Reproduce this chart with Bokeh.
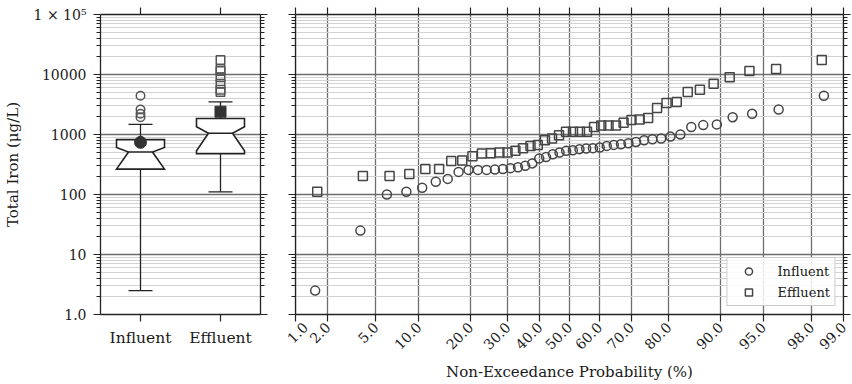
import math
from statistics import NormalDist
from bokeh.plotting import figure
from bokeh.layouts import row
from bokeh.models import Range1d, FixedTicker, LogAxis, LinearAxis, Legend, LegendItem
from bokeh.embed import file_html
from bokeh.resources import INLINE

# ---------------- data ----------------
categories = ["Influent", "Effluent"]

influent = [2.5, 25, 100, 111, 130, 163, 182, 238, 257, 257, 257, 260, 265, 275, 285,
            300, 330, 400, 420, 470, 500, 534, 548, 570, 585, 592, 608, 646, 671, 689,
            716, 752, 802, 832, 855, 923, 1000, 1330, 1435, 1473, 1945, 2213, 2606, 4436]
influent_prob = [1.54, 3.79, 6.05, 8.30, 10.55, 12.81, 15.06, 17.32, 19.57, 21.83, 24.08,
                 26.33, 28.59, 30.84, 33.10, 35.35, 37.60, 39.86, 42.11, 44.37, 46.62, 48.87,
                 51.13, 53.38, 55.63, 57.89, 60.14, 62.40, 64.65, 66.90, 69.16, 71.41, 73.67,
                 75.92, 78.18, 80.43, 82.68, 84.94, 87.19, 89.45, 91.70, 93.95, 96.21, 98.46]

effluent = [111, 204, 204, 220, 267, 267, 361, 368, 432, 484, 485, 500, 500, 534, 592,
            646, 671, 802, 855, 970, 1110, 1110, 1110, 1110, 1330, 1418, 1418, 1418, 1572,
            1737, 1780, 1888, 2760, 3335, 3490, 5100, 5570, 7000, 9020, 11470, 12330, 17400]
effluent_prob = [1.61, 3.97, 6.33, 8.69, 11.05, 13.41, 15.77, 18.13, 20.50, 22.86, 25.22,
                 27.58, 29.94, 32.30, 34.66, 37.02, 39.38, 41.74, 44.10, 46.46, 48.82, 51.18,
                 53.54, 55.90, 58.26, 60.62, 62.98, 65.34, 67.70, 70.06, 72.42, 74.78, 77.14,
                 79.50, 81.87, 84.23, 86.59, 88.95, 91.31, 93.67, 96.03, 98.39]

# box statistics
box_q1 = [265, 480]
box_notch_lo = [265, 535]
box_median = [510, 1050]
box_notch_hi = [610, 1350]
box_q3 = [820, 1850]
box_whisk_lo = [2.5, 111]
box_whisk_hi = [1473, 3490]
box_mean = [740, 2400]

y_ticks = [1.0, 10.0, 100.0, 1000.0, 10000.0, 100000.0]
y_tick_labels = ["1.0", "10", "100", "1000", "10000", "1 \u00d7 10\u2075"]
prob_ticks = [1, 2, 5, 10, 20, 30, 40, 50, 60, 70, 80, 90, 95, 98, 99]
prob_tick_labels = ["1.0", "2.0", "5.0", "10.0", "20.0", "30.0", "40.0", "50.0", "60.0",
                    "70.0", "80.0", "90.0", "95.0", "98.0", "99.0"]

# ---------------- styling helpers ----------------
FONT = "DejaVu Serif"
TXT = "#1a1a1a"
LINE = "#222222"
MAJ_GRID = "#6e6e6e"
MIN_GRID = "#d2d2d2"
MARK = "#454545"

minor_y = [m * d for d in y_ticks[:-1] for m in range(2, 10)]


def y_ticker():
    return FixedTicker(ticks=y_ticks, minor_ticks=minor_y)


def style_axis(ax, hidden_ticks=None, minor=True):
    ax.axis_line_color = LINE
    ax.axis_line_width = 1.3
    ax.major_tick_line_color = LINE
    ax.major_tick_line_width = 1.2
    ax.major_tick_out = 7
    ax.major_tick_in = 0
    if minor:
        ax.minor_tick_line_color = LINE
        ax.minor_tick_line_width = 1.0
        ax.minor_tick_out = 4
        ax.minor_tick_in = 0
    else:
        ax.minor_tick_line_color = None
    ax.major_label_text_font = FONT
    ax.major_label_text_color = TXT
    ax.axis_label_text_font = FONT
    ax.axis_label_text_color = TXT
    ax.axis_label_text_font_style = "normal"
    ax.axis_label_text_font_size = "15px"
    if hidden_ticks is not None:
        # axis that only carries tick marks: blank labels, tiny reserved space
        ax.major_label_overrides = {t: "" for t in hidden_ticks}
        ax.major_label_text_font_size = "1px"
        ax.major_label_standoff = 0


def style_fig(p):
    p.outline_line_color = None
    p.background_fill_color = "white"
    p.border_fill_color = "white"


# ---------------- left: box plot ----------------
p1 = figure(width=285, height=384, x_range=Range1d(0.5, 2.5), y_range=Range1d(1, 1e5),
            y_axis_type="log", output_backend="svg", toolbar_location=None,
            min_border_left=100, min_border_right=25, min_border_top=14, min_border_bottom=67)
style_fig(p1)
cat_pos = [1, 2]

lax1 = p1.left[0]
lax1.ticker = y_ticker()
lax1.major_label_overrides = dict(zip(y_ticks, y_tick_labels))
lax1.axis_label = "Total Iron (\u03bcg/L)"
style_axis(lax1)
lax1.major_label_text_font_size = "14px"
lax1.major_label_standoff = 7
lax1.axis_label_standoff = 9

bax1 = p1.below[0]
bax1.ticker = FixedTicker(ticks=cat_pos)
bax1.major_label_overrides = dict(zip(cat_pos, categories))
style_axis(bax1, minor=False)
bax1.major_label_text_font_size = "15.5px"
bax1.major_label_standoff = 7

tax1 = LinearAxis(ticker=FixedTicker(ticks=cat_pos))
style_axis(tax1, hidden_ticks=cat_pos, minor=False)
p1.add_layout(tax1, "above")
rax1 = LogAxis(ticker=y_ticker())
style_axis(rax1, hidden_ticks=y_ticks)
p1.add_layout(rax1, "right")

p1.xgrid.visible = False
p1.ygrid[0].ticker = y_ticker()
p1.ygrid.grid_line_color = MAJ_GRID
p1.ygrid.grid_line_width = 1.4
p1.ygrid.minor_grid_line_color = MIN_GRID
p1.ygrid.minor_grid_line_width = 1.2

hw, nw, cw = 0.3, 0.15, 0.15
p1.segment(x0=cat_pos, y0=box_q3, x1=cat_pos, y1=box_whisk_hi, line_color=LINE, line_width=1.3)
p1.segment(x0=cat_pos, y0=box_q1, x1=cat_pos, y1=box_whisk_lo, line_color=LINE, line_width=1.3)
p1.segment(x0=[x - cw for x in cat_pos], y0=box_whisk_hi, x1=[x + cw for x in cat_pos],
           y1=box_whisk_hi, line_color=LINE, line_width=1.3)
p1.segment(x0=[x - cw for x in cat_pos], y0=box_whisk_lo, x1=[x + cw for x in cat_pos],
           y1=box_whisk_lo, line_color=LINE, line_width=1.3)
bxs, bys = [], []
for x, a, nl, m, nh, b in zip(cat_pos, box_q1, box_notch_lo, box_median, box_notch_hi, box_q3):
    bxs.append([x - hw, x - hw, x - nw, x - hw, x - hw, x + hw, x + hw, x + nw, x + hw, x + hw])
    bys.append([a, nl, m, nh, b, b, nh, m, nl, a])
p1.patches(bxs, bys, fill_color="white", line_color=LINE, line_width=1.6, line_join="miter")
p1.segment(x0=[x - nw for x in cat_pos], y0=box_median, x1=[x + nw for x in cat_pos],
           y1=box_median, line_color=LINE, line_width=1.6)
inf_out = [v for v in influent if v > box_whisk_hi[0] or v < box_whisk_lo[0]]
eff_out = [v for v in effluent if v > box_whisk_hi[1] or v < box_whisk_lo[1]]
p1.scatter(x=[cat_pos[0]] * len(inf_out), y=inf_out, marker="circle", size=8.5,
           fill_color=None, line_color="#555555", line_width=1.5)
p1.scatter(x=[cat_pos[1]] * len(eff_out), y=eff_out, marker="square", size=8.5,
           fill_color=None, line_color="#555555", line_width=1.5)
p1.scatter(x=[cat_pos[0]], y=[box_mean[0]], marker="circle", size=12, fill_color="#333333",
           line_color="#333333")
p1.scatter(x=[cat_pos[1]], y=[box_mean[1]], marker="square", size=11, fill_color="#333333",
           line_color="#333333")

# ---------------- right: probability plot ----------------
nd = NormalDist()
zt = [nd.inv_cdf(t / 100.0) for t in prob_ticks]
inf_z = [nd.inv_cdf(p / 100.0) for p in influent_prob]
eff_z = [nd.inv_cdf(p / 100.0) for p in effluent_prob]

p2 = figure(width=567, height=384, x_range=Range1d(zt[0] - 1e-9, zt[-1] + 1e-9),
            y_range=Range1d(1, 1e5), y_axis_type="log", output_backend="svg",
            toolbar_location=None, min_border_left=10, min_border_right=9,
            min_border_top=14, min_border_bottom=67)
style_fig(p2)

bax2 = p2.below[0]
bax2.ticker = FixedTicker(ticks=zt)
bax2.major_label_overrides = dict(zip(zt, prob_tick_labels))
bax2.major_label_orientation = math.pi / 4
bax2.axis_label = "Non-Exceedance Probability (%)"
style_axis(bax2, minor=False)
bax2.major_label_text_font_size = "14px"
bax2.major_label_standoff = 3
bax2.axis_label_standoff = 6

lax2 = p2.left[0]
lax2.ticker = y_ticker()
style_axis(lax2, hidden_ticks=y_ticks)

tax2 = LinearAxis(ticker=FixedTicker(ticks=zt))
style_axis(tax2, hidden_ticks=zt, minor=False)
p2.add_layout(tax2, "above")
rax2 = LogAxis(ticker=y_ticker())
style_axis(rax2, hidden_ticks=y_ticks)
p2.add_layout(rax2, "right")

p2.xgrid[0].ticker = FixedTicker(ticks=zt)
p2.xgrid.grid_line_color = MAJ_GRID
p2.xgrid.grid_line_width = 1.3
p2.ygrid[0].ticker = y_ticker()
p2.ygrid.grid_line_color = MAJ_GRID
p2.ygrid.grid_line_width = 1.4
p2.ygrid.minor_grid_line_color = MIN_GRID
p2.ygrid.minor_grid_line_width = 1.2

r_inf = p2.scatter(x=inf_z, y=influent, marker="circle", size=9, fill_color=None,
                   line_color=MARK, line_width=1.5)
r_eff = p2.scatter(x=eff_z, y=effluent, marker="square", size=9, fill_color=None,
                   line_color=MARK, line_width=1.5)

legend = Legend(items=[LegendItem(label=categories[0], renderers=[r_inf]),
                       LegendItem(label=categories[1], renderers=[r_eff])],
                location="bottom_right")
legend.label_text_font = FONT
legend.label_text_font_size = "13px"
legend.label_text_color = TXT
legend.glyph_width = 34
legend.glyph_height = 18
legend.label_height = 18
legend.label_standoff = 12
legend.padding = 4
legend.spacing = 3
legend.margin = 8
legend.border_line_color = "#9a9a9a"
legend.border_line_width = 1.2
legend.background_fill_color = "white"
legend.background_fill_alpha = 0.85
p2.add_layout(legend)

layout = row(p1, p2)
open("out.html", "w").write(file_html(layout, INLINE))
